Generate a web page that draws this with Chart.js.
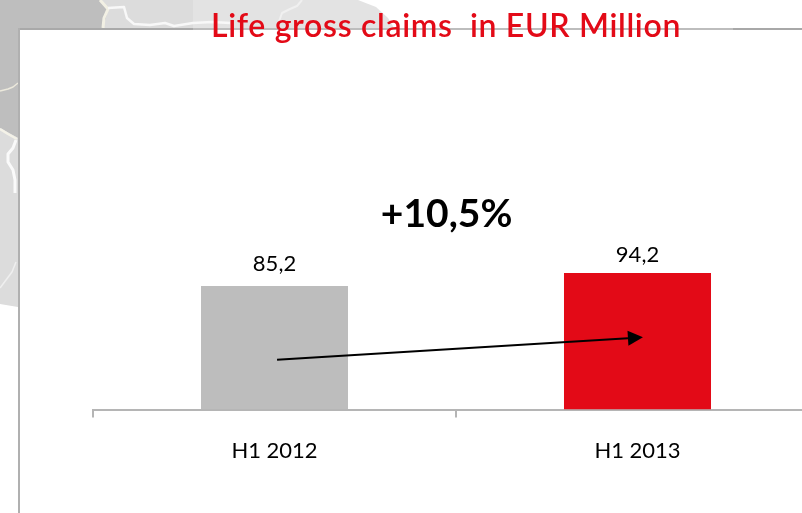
<!DOCTYPE html>
<html>
<head>
<meta charset="utf-8">
<style>html,body{margin:0;padding:0;background:#fff;overflow:hidden;width:802px;height:513px}canvas{display:block}</style>
<script src="https://cdn.jsdelivr.net/npm/chart.js@4"></script>
</head>
<body>
<canvas id="c" width="892" height="513"></canvas>
<script>
const categories = ["H1 2012", "H1 2013"];
const claims = [85.2, 94.2];
const valueLabels = ["85,2", "94,2"];
const barColors = ["#bdbdbd", "#e30a17"];
const titleText = "Life gross claims  in EUR Million";
const growthLabel = "+10,5%";
const growthAt = [0.474, 134.7];
const arrowFrom = [0.007, 34.4];
const arrowTo = [1.015, 49.8];
const FONT = "Lato, Carlito, sans-serif";
const LABEL_GAPS = [11, 7];

function poly(ctx, pts, fill) {
  ctx.beginPath();
  pts.forEach((p, i) => i ? ctx.lineTo(p[0], p[1]) : ctx.moveTo(p[0], p[1]));
  ctx.closePath();
  ctx.fillStyle = fill;
  ctx.fill();
}
function river(ctx, pts, color, w) {
  ctx.beginPath();
  pts.forEach((p, i) => i ? ctx.lineTo(p[0], p[1]) : ctx.moveTo(p[0], p[1]));
  ctx.strokeStyle = color;
  ctx.lineWidth = w;
  ctx.lineJoin = "round";
  ctx.stroke();
}
const backdrop = {
  id: "backdrop",
  afterLayout(chart) {
    const t = chart.titleBlock;
    if (t && !t._spaced) {
      const orig = t.draw;
      t.draw = function () {
        chart.ctx.save();
        chart.ctx.letterSpacing = "0.68px";
        chart.ctx.translate(-10, 0);
        orig.apply(t, arguments);
        chart.ctx.restore();
      };
      t._spaced = true;
    }
  },
  beforeDraw(chart) {
    const ctx = chart.ctx;
    ctx.save();
    ctx.fillStyle = "#fff";
    ctx.fillRect(0, 0, chart.width, chart.height);
    poly(ctx, [[100,0],[193,0],[193,28],[100,28]], "#dcdcdc");
    poly(ctx, [[0,128],[18,138],[18,307],[0,304]], "#dcdcdc");
    poly(ctx, [[193,0],[358,0],[376,7],[388,18],[394,28],[193,28]], "#e3e3e3");
    poly(ctx, [[0,0],[100,0],[108,10],[103,28],[18,28],[18,138],[0,128]], "#bebebe");
    river(ctx, [[0,91],[8,89],[13,87],[18,83]], "#ece9dc", 1.5);
    river(ctx, [[0,129],[8,134],[17,139]], "#f4f2e8", 2.5);
    river(ctx, [[16,140],[13,148],[8,154],[8,162],[13,170],[15,180],[15,193]], "#fafafa", 3);
    river(ctx, [[16,262],[12,272],[6,280],[0,288]], "#efefef", 1.5);
    river(ctx, [[100,0],[108,9],[104,18],[103,28]], "#f2f0e4", 3);
    river(ctx, [[108,8],[124,7],[127,18],[134,24],[150,25],[165,23],[174,26],[193,23],[212,22],[230,23]], "#f8f8f8", 2.5);
    river(ctx, [[277,27],[282,13],[290,9],[297,6],[302,0]], "#f0f0f0", 2);
    [[18,193,"#a9a9a9"],[193,733,"#bdbdbd"],[733,892,"#a8a8a8"]].forEach(s => {
      ctx.fillStyle = s[2];
      ctx.fillRect(s[0], 28, s[1] - s[0], 2);
    });
    ctx.fillStyle = "#b0b0b0";
    ctx.fillRect(18, 28, 2, 485);
    ctx.restore();
  }
};
const annotations = {
  id: "annotations",
  afterDatasetsDraw(chart) {
    const ctx = chart.ctx, x = chart.scales.x, y = chart.scales.y;
    ctx.save();
    ctx.fillStyle = "#000";
    ctx.textAlign = "center";
    ctx.textBaseline = "bottom";
    ctx.font = "22px " + FONT;
    chart.getDatasetMeta(0).data.forEach((bar, i) => {
      ctx.fillText(valueLabels[i], bar.x, bar.y - LABEL_GAPS[i]);
    });
    ctx.font = "bold 39px " + FONT;
    ctx.textBaseline = "middle";
    ctx.fillText(growthLabel, x.getPixelForValue(growthAt[0]), y.getPixelForValue(growthAt[1]));
    const x0 = x.getPixelForValue(arrowFrom[0]), y0 = y.getPixelForValue(arrowFrom[1]);
    const x1 = x.getPixelForValue(arrowTo[0]), y1 = y.getPixelForValue(arrowTo[1]);
    const a = Math.atan2(y1 - y0, x1 - x0), head = 15, half = 7.5;
    const bx = x1 - head * Math.cos(a), by = y1 - head * Math.sin(a);
    ctx.beginPath();
    ctx.moveTo(x0, y0);
    ctx.lineTo(bx, by);
    ctx.strokeStyle = "#000";
    ctx.lineWidth = 2;
    ctx.stroke();
    ctx.beginPath();
    ctx.moveTo(x1, y1);
    ctx.lineTo(bx - half * Math.sin(a), by + half * Math.cos(a));
    ctx.lineTo(bx + half * Math.sin(a), by - half * Math.cos(a));
    ctx.closePath();
    ctx.fill();
    ctx.restore();
  }
};
new Chart(document.getElementById("c"), {
  type: "bar",
  data: {
    labels: categories,
    datasets: [{
      data: claims,
      backgroundColor: barColors,
      borderWidth: 0,
      categoryPercentage: 1,
      barPercentage: 0.405
    }]
  },
  plugins: [backdrop, annotations],
  options: {
    responsive: false,
    animation: false,
    devicePixelRatio: 1,
    layout: { padding: { left: 93, right: 73, top: 0, bottom: 29 } },
    plugins: {
      legend: { display: false },
      tooltip: { enabled: false },
      title: {
        display: true,
        text: titleText,
        color: "#e30a17",
        font: { family: FONT, size: 32, weight: 600, lineHeight: 1.2 },
        padding: { top: 7, bottom: 74 }
      }
    },
    scales: {
      x: {
        grid: { offset: true, drawOnChartArea: false, drawTicks: true, tickLength: 8, color: "#b5b5b5", lineWidth: 2 },
        border: { display: true, color: "#b5b5b5", width: 2 },
        ticks: { color: "#000", font: { family: FONT, size: 22 }, padding: 20, maxRotation: 0, autoSkip: false }
      },
      y: { display: false, min: 0, max: 200 }
    }
  }
});
</script>
</body>
</html>
